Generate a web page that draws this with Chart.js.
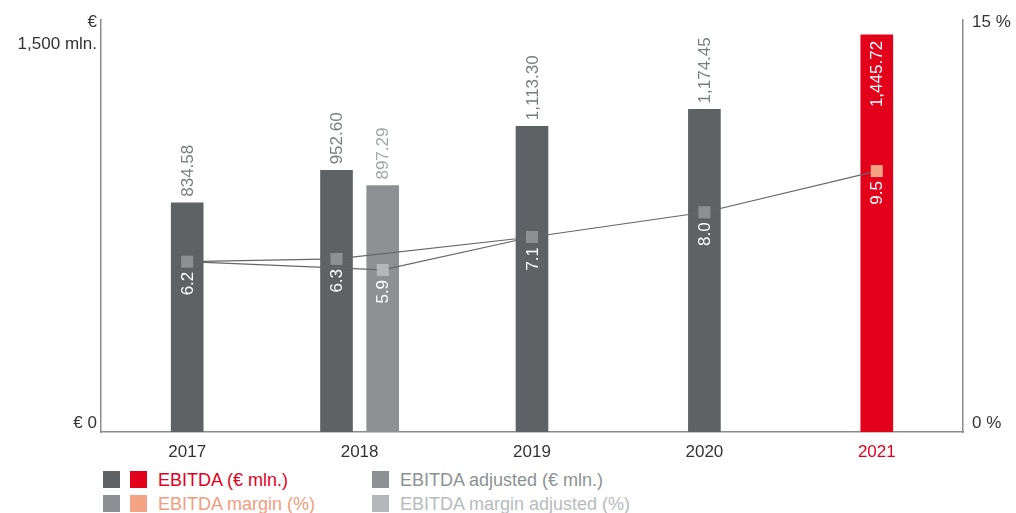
<!DOCTYPE html>
<html>
<head>
<meta charset="utf-8">
<script src="https://cdn.jsdelivr.net/npm/chart.js@4"></script>
<style>
  body { margin: 0; background: #fff; font-family: "Liberation Sans", Arial, sans-serif; }
  #wrap { position: relative; width: 1016px; height: 513px; }
  #chart-box { position: absolute; left: 0; top: 0; width: 1016px; height: 470px; }
  .lg { position: absolute; font-size: 18px; line-height: 20px; white-space: nowrap; }
  .sq { position: absolute; width: 17px; height: 17px; }
</style>
</head>
<body>
<div id="wrap">
  <div id="chart-box"><canvas id="ebitda-chart" width="1016" height="470"></canvas></div>
  <div id="legend"></div>
</div>
<script>
// chart data
const years = ['2017', '2018', '2019', '2020', '2021']
const ebitda = [834.58, 952.60, 1113.30, 1174.45, 1445.72]
const ebitdaAdjusted = [null, 897.29, null, null, null]
const margin = [6.2, 6.3, 7.1, 8.0, 9.5]
const marginAdjusted = [6.2, 5.9, 7.1, null, null]
const leftTicks = [0, 1500]
const rightTicks = [0, 15]

// colours
const darkGrey = '#5e6265'
const red = '#e3001b'
const adjGrey = '#8d9193'
const markerGrey = '#8c9092'
const salmon = '#f5a385'
const adjMarker = '#b4b8ba'
const lastYear = years.length - 1

// a year with an adjusted value gets two bars side by side
const barWidth = 32
const pairShift = 0.134

function pointX(i, side) {
  const paired = ebitdaAdjusted[i] !== null
  return paired ? i + side * pairShift : i
}

function toPoints(values, side) {
  let pts = []
  for (let i = 0; i < values.length; i++) {
    if (values[i] !== null) pts.push({ x: pointX(i, side), y: values[i] })
  }
  return pts
}

const ebitdaPoints = toPoints(ebitda, -1)
const ebitdaAdjPoints = toPoints(ebitdaAdjusted, 1)
const marginPoints = toPoints(margin, -1)
const marginAdjPoints = toPoints(marginAdjusted, 1)

const barColors = ebitda.map((v, i) => i === lastYear ? red : darkGrey)
const markerColors = margin.map((v, i) => i === lastYear ? salmon : markerGrey)
const adjRadius = marginAdjPoints.map(p => Number.isInteger(p.x) ? 0 : 8.5)

const fmt = v => v.toLocaleString('en-US', { minimumFractionDigits: 2, maximumFractionDigits: 2 })
const labelFont = '17px "Liberation Sans", Arial, sans-serif'

// writes the vertical value labels on bars and markers
const valueLabels = {
  id: 'valueLabels',
  afterDatasetsDraw(chart) {
    const ctx = chart.ctx
    const top = chart.chartArea.top
    ctx.save()
    ctx.font = labelFont
    ctx.textBaseline = 'middle'
    chart.data.datasets.forEach((ds, di) => {
      const meta = chart.getDatasetMeta(di)
      meta.data.forEach((el, i) => {
        const raw = ds.data[i]
        let text, y, align, color
        if (ds.type === 'bar') {
          text = fmt(raw.y)
          const w = ctx.measureText(text).width
          if (el.y - 6 - w < top) {
            y = el.y + 6; align = 'right'; color = '#ffffff'
          } else {
            y = el.y - 6; align = 'left'
            color = ds.label.indexOf('adjusted') >= 0 ? '#a4a7a9' : '#7a7d80'
          }
        } else {
          const r = Array.isArray(ds.pointRadius) ? ds.pointRadius[i] : ds.pointRadius
          if (!r) return
          text = raw.y.toFixed(1)
          y = el.y + 10; align = 'right'; color = '#ffffff'
        }
        ctx.save()
        ctx.translate(el.x, y)
        ctx.rotate(-Math.PI / 2)
        ctx.textAlign = align
        ctx.fillStyle = color
        ctx.fillText(text, 0, 1)
        ctx.restore()
      })
    })
    ctx.restore()
  }
}

// keep the axis labels from pushing the plot area
function fixWidth(w) {
  return scale => { scale.width = w; scale.paddingTop = 0; scale.paddingBottom = 0 }
}

Chart.defaults.font.family = '"Liberation Sans", Arial, sans-serif'
Chart.defaults.font.size = 17

new Chart(document.getElementById('ebitda-chart'), {
  data: {
    labels: years,
    datasets: [
      {
        type: 'line', label: 'EBITDA margin (%)', data: marginPoints,
        xAxisID: 'x2', yAxisID: 'y2', order: 1,
        borderColor: '#666666', borderWidth: 1.2, fill: false, tension: 0,
        pointStyle: 'rect', pointRadius: 8.5, pointBorderWidth: 0,
        pointBackgroundColor: markerColors, pointBorderColor: markerColors
      },
      {
        type: 'line', label: 'EBITDA margin adjusted (%)', data: marginAdjPoints,
        xAxisID: 'x2', yAxisID: 'y2', order: 1,
        borderColor: '#666666', borderWidth: 1.2, fill: false, tension: 0,
        pointStyle: 'rect', pointRadius: adjRadius, pointBorderWidth: 0,
        pointBackgroundColor: adjMarker, pointBorderColor: adjMarker
      },
      {
        type: 'bar', label: 'EBITDA (€ mln.)', data: ebitdaPoints,
        xAxisID: 'x2', yAxisID: 'y', order: 2,
        backgroundColor: barColors, grouped: false, barThickness: barWidth
      },
      {
        type: 'bar', label: 'EBITDA adjusted (€ mln.)', data: ebitdaAdjPoints,
        xAxisID: 'x2', yAxisID: 'y', order: 2,
        backgroundColor: adjGrey, grouped: false, barThickness: barWidth
      }
    ]
  },
  options: {
    responsive: false,
    animation: false,
    layout: { padding: { top: 20 } },
    plugins: { legend: { display: false }, tooltip: { enabled: false } },
    scales: {
      x: {
        type: 'category',
        offset: true,
        grid: { display: false, drawTicks: false },
        border: { color: '#8c8c8c', width: 1.5 },
        ticks: {
          padding: 10,
          color: ctx => ctx.index === lastYear ? red : '#333333'
        },
        afterFit: scale => { scale.height = 38 }
      },
      x2: {
        type: 'linear', display: false, offset: false,
        min: -0.5, max: years.length - 0.5
      },
      y: {
        position: 'left', min: leftTicks[0], max: leftTicks[1],
        grid: { display: false, drawTicks: false },
        border: { color: '#8c8c8c', width: 1.5 },
        afterBuildTicks: scale => { scale.ticks = leftTicks.map(v => ({ value: v })) },
        ticks: {
          padding: 4, color: '#333333', labelOffset: 2,
          font: { lineHeight: 1.3 },
          callback: v => v === 0 ? ['€ 0', ''] : ['', '€', v.toLocaleString('en-US') + ' mln.']
        },
        afterFit: fixWidth(101)
      },
      y2: {
        position: 'right', min: rightTicks[0], max: rightTicks[1],
        grid: { display: false, drawTicks: false },
        border: { color: '#8c8c8c', width: 1.5 },
        afterBuildTicks: scale => { scale.ticks = rightTicks.map(v => ({ value: v })) },
        ticks: {
          padding: 9, color: '#333333', labelOffset: 2,
          font: { lineHeight: 1.3 },
          callback: v => v === 0 ? [v + ' %', ''] : ['', v + ' %', '']
        },
        afterFit: fixWidth(53)
      }
    }
  },
  plugins: [valueLabels]
})

// legend below the chart
const legendItems = [
  { squares: [darkGrey, red], text: 'EBITDA (€ mln.)', color: red, col: 0, row: 0 },
  { squares: [adjGrey], text: 'EBITDA adjusted (€ mln.)', color: '#8e9193', col: 1, row: 0 },
  { squares: [markerGrey, salmon], text: 'EBITDA margin (%)', color: '#f29c7e', col: 0, row: 1 },
  { squares: [adjMarker], text: 'EBITDA margin adjusted (%)', color: '#b8bbbd', col: 1, row: 1 }
]
const legendBox = document.getElementById('legend')
const colX = [103, 372]
const rowY = [471, 495]
legendItems.forEach(item => {
  let x = colX[item.col]
  item.squares.forEach(c => {
    const sq = document.createElement('div')
    sq.className = 'sq'
    sq.style.left = x + 'px'
    sq.style.top = rowY[item.row] + 'px'
    sq.style.background = c
    legendBox.appendChild(sq)
    x += 27
  })
  const t = document.createElement('div')
  t.className = 'lg'
  t.style.left = (x + 1) + 'px'
  t.style.top = (rowY[item.row] - 1) + 'px'
  t.style.color = item.color
  t.textContent = item.text
  legendBox.appendChild(t)
})
</script>
</body>
</html>
